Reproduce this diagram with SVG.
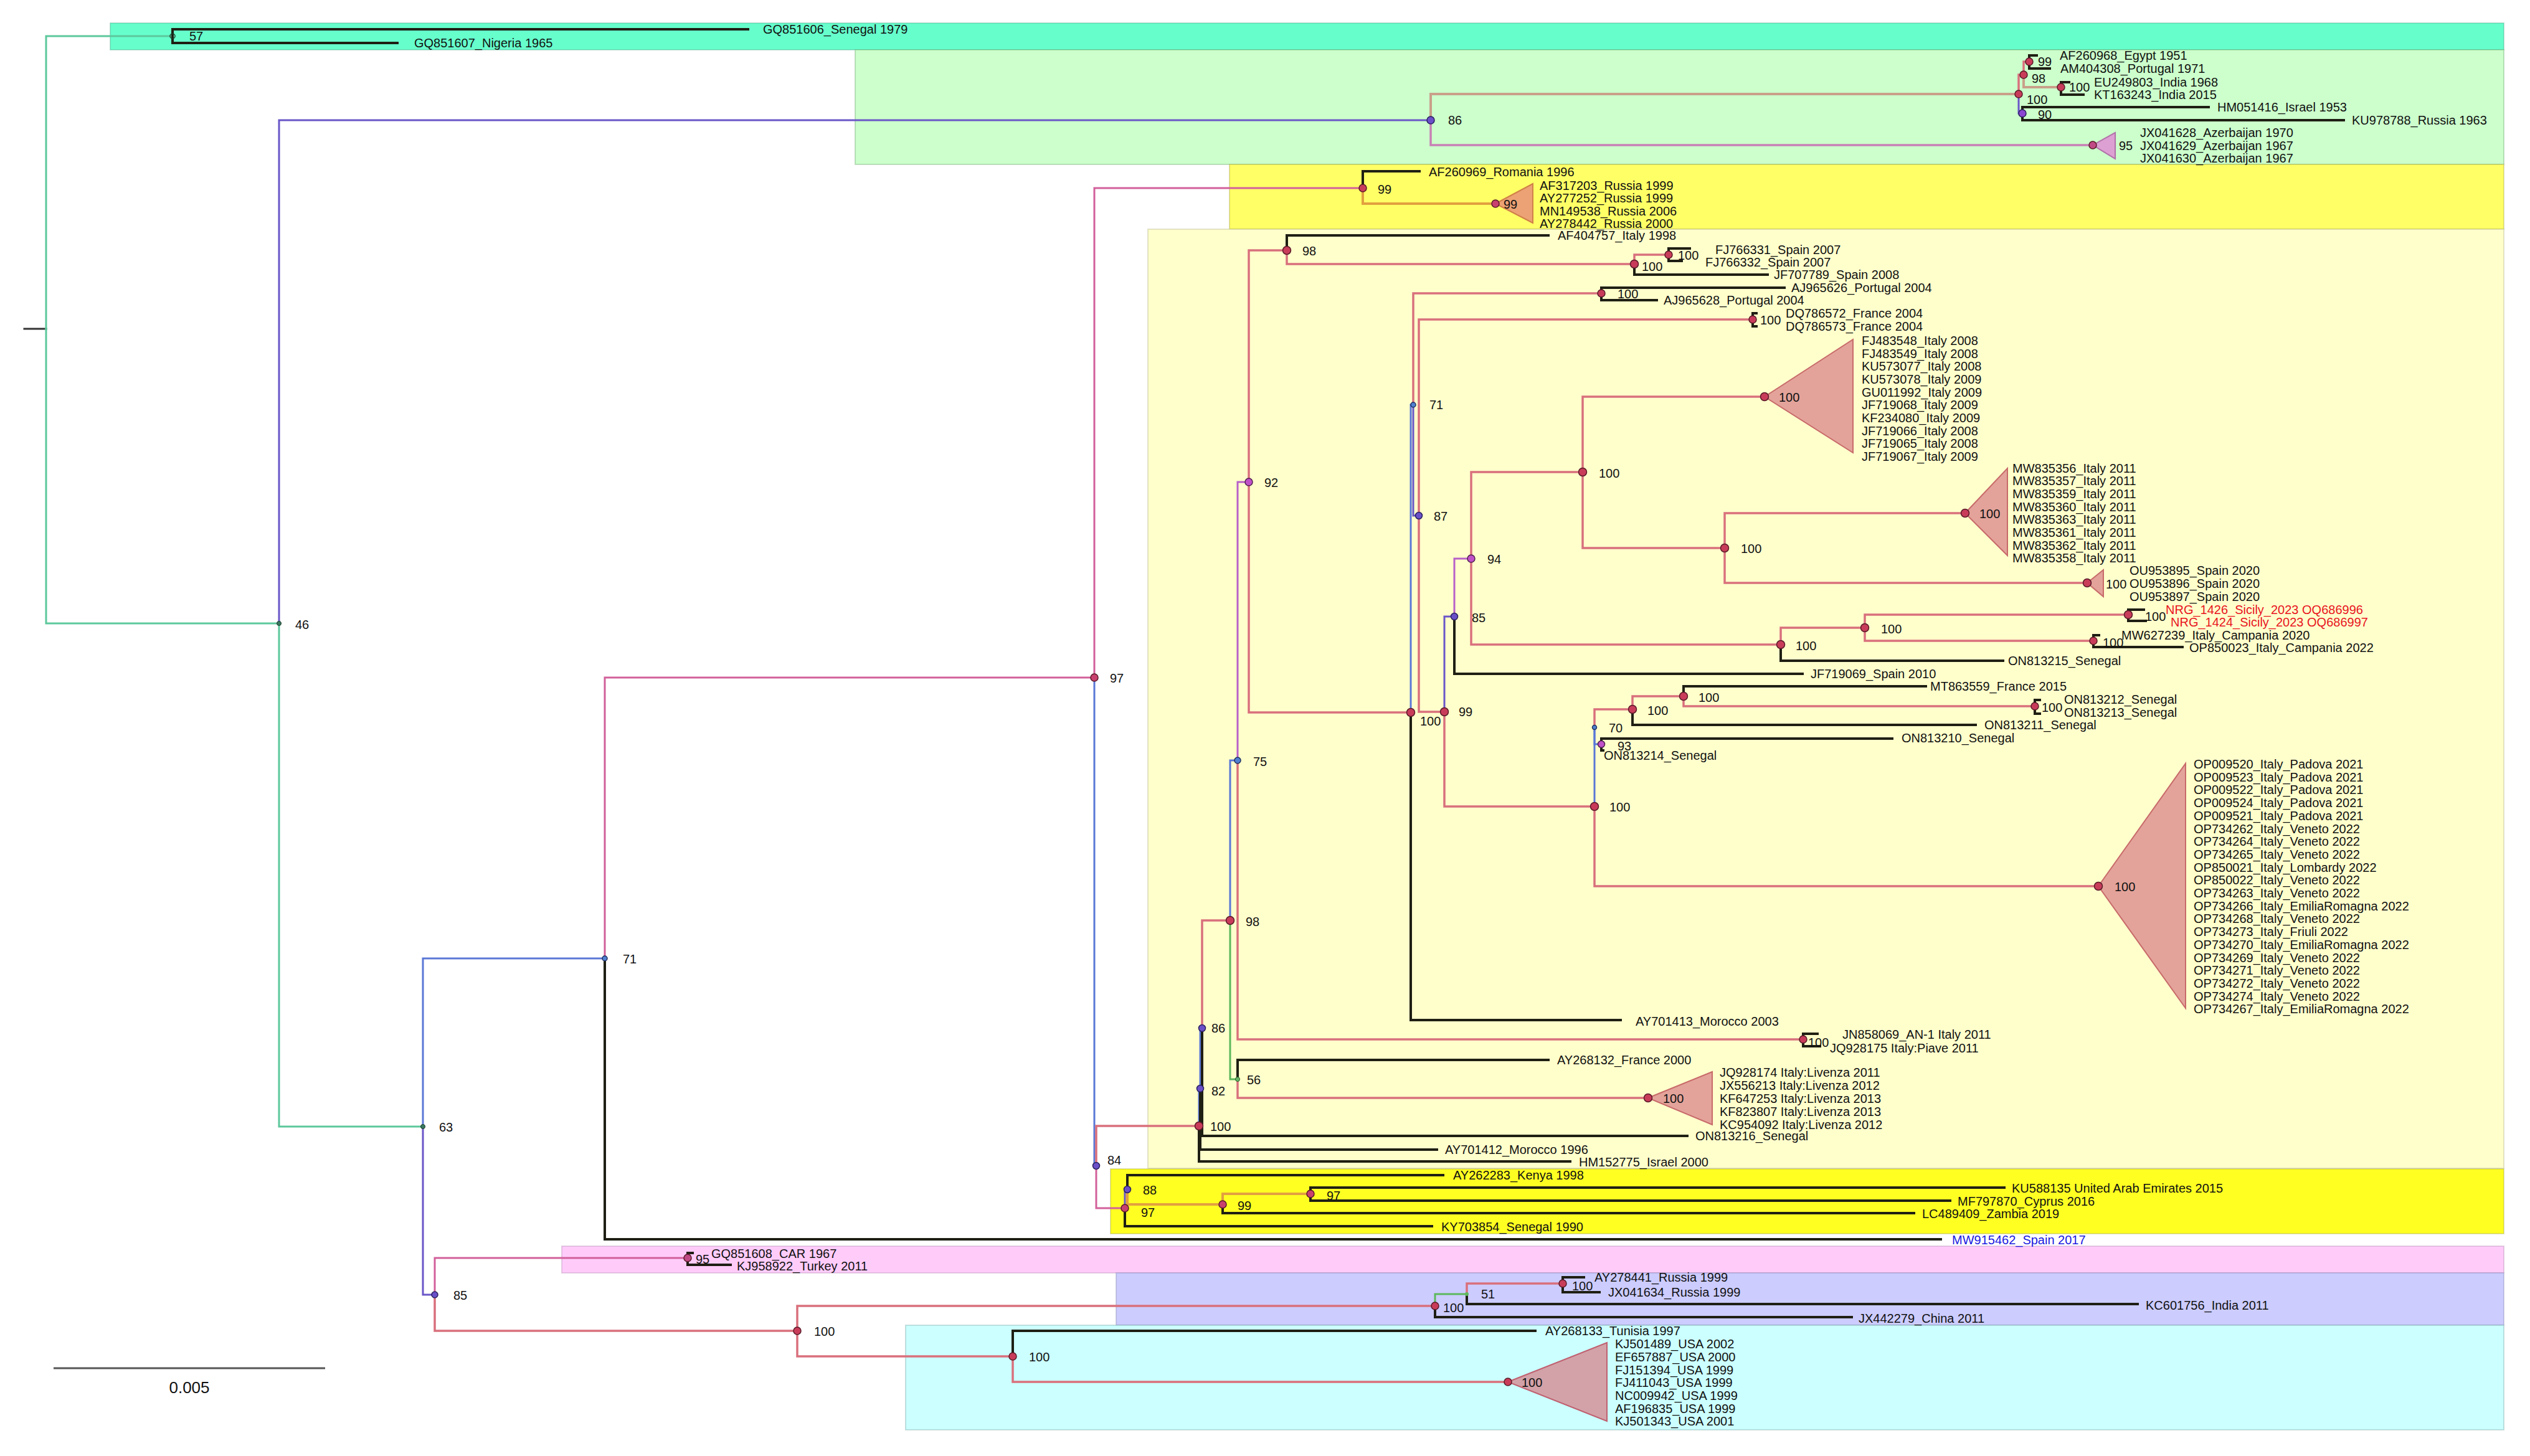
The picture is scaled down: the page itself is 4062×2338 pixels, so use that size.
<svg xmlns="http://www.w3.org/2000/svg" width="4062" height="2338" viewBox="0 0 4062 2338">
<style>
.bx{stroke-width:2;stroke-opacity:0.35}
#connectors path{fill:none;stroke-linecap:square}
.k{stroke:#1f1f14;stroke-width:4}
.p{stroke:#d9707c;stroke-width:3.5}
.m{stroke:#d2609a;stroke-width:3}
.b{stroke:#5a78d6;stroke-width:3}
.u{stroke:#6a56c8;stroke-width:3}
.g{stroke:#5cc89c;stroke-width:3}
.gg{stroke:#5cb85c;stroke-width:3}
.o{stroke:#e2a040;stroke-width:4}
.v{stroke:#c880b4;stroke-width:3.5}
.t{stroke:#c9a08a;stroke-width:4}
.q{stroke:#b860c8;stroke-width:3}
text{font-family:"Liberation Sans",Arial,sans-serif;font-size:20px;fill:#111;dominant-baseline:central}
.red{fill:#e8141e}
.blu{fill:#1a1ae0}
.dr{fill:#c83c5a;stroke:#5a1a28;stroke-width:1.5}
.dp{fill:#6a50c8;stroke:#2a2060;stroke-width:1.5}
.dm{fill:#c050c8;stroke:#502050;stroke-width:1.5}
.db{fill:#5080d0;stroke:#203060;stroke-width:1.5}
.ds{fill:#3a7a60;stroke:#1a3a2a;stroke-width:1}
.tri{stroke-width:2}
.ti{fill:#e3a39a;stroke:#c86a6a}
</style>
<rect width="4062" height="2338" fill="#ffffff"/>
<g id="boxes">
<rect class="bx" x="177" y="37" width="3843" height="43" fill="#66ffcc" stroke="#40a080"/>
<rect class="bx" x="1373" y="80" width="2647" height="184" fill="#ccffcc" stroke="#60a060"/>
<rect class="bx" x="1974" y="264" width="2046" height="104" fill="#ffff66" stroke="#a0a040"/>
<rect class="bx" x="1843" y="368" width="2177" height="1508" fill="#ffffcc" stroke="#b0b080"/>
<rect class="bx" x="1783" y="1877" width="2237" height="104" fill="#ffff22" stroke="#a0a040"/>
<rect class="bx" x="902" y="2001" width="3118" height="43" fill="#ffccfa" stroke="#b080b0"/>
<rect class="bx" x="1792" y="2044" width="2228" height="84" fill="#ccccff" stroke="#8080b0"/>
<rect class="bx" x="1454" y="2128" width="2566" height="168" fill="#ccffff" stroke="#70a0a0"/>
</g>
<g id="connectors">
<path d="M39 528H74" style="stroke:#333;stroke-width:3"/>
<path class="g" d="M74 528V58H277"/>
<path class="g" d="M74 528V1001H448"/>
<path class="k" d="M277 58V47H1201"/>
<path class="k" d="M277 58V69H638"/>
<path class="u" d="M448 1001V193H2297"/>
<path class="g" d="M448 1001V1809H679"/>
<path class="t" d="M2297 193V151H3241"/>
<path class="v" d="M2297 193V233H3360"/>
<path class="p" d="M3241 151V120H3249"/>
<path class="u" d="M3241 151V182H3247"/>
<path class="p" d="M3249 120V99H3258"/>
<path class="t" d="M3249 120V140H3309"/>
<path class="k" d="M3258 99V89H3270"/>
<path class="k" d="M3258 99V110H3291"/>
<path class="k" d="M3309 140V132H3322"/>
<path class="k" d="M3309 140V152H3345"/>
<path class="k" d="M3247 182V172H3546"/>
<path class="k" d="M3247 182V193H3763"/>
<path class="b" d="M679 1809V1539H971"/>
<path class="u" d="M679 1809V2079H698"/>
<path class="m" d="M971 1539V1088H1757"/>
<path class="k" d="M971 1539V1990H3116"/>
<path class="m" d="M1757 1088V302H2188"/>
<path class="b" d="M1757 1088V1872H1760"/>
<path class="k" d="M2188 302V275H2279"/>
<path class="o" d="M2188 302V327H2401"/>
<path class="p" d="M1760 1872V1808H1925"/>
<path class="m" d="M1760 1872V1940H1806"/>
<path class="b" d="M1925 1808V1748H1927"/>
<path class="k" d="M1925 1808V1865H2521"/>
<path class="b" d="M1927 1748V1651H1930"/>
<path class="k" d="M1927 1748V1846H2307"/>
<path class="p" d="M1930 1651V1478H1975"/>
<path class="k" d="M1930 1651V1824H2709"/>
<path class="b" d="M1975 1478V1221H1987"/>
<path class="gg" d="M1975 1478V1733H1987"/>
<path class="q" d="M1987 1221V774H2005"/>
<path class="p" d="M1987 1221V1669H2895"/>
<path class="k" d="M2895 1669V1660H2918"/>
<path class="k" d="M2895 1669V1680H2922"/>
<path class="k" d="M1987 1733V1702H2486"/>
<path class="p" d="M1987 1733V1763H2646"/>
<path class="p" d="M2005 774V402H2066"/>
<path class="p" d="M2005 774V1144H2265"/>
<path class="k" d="M2066 402V378H2486"/>
<path class="p" d="M2066 402V424H2624"/>
<path class="p" d="M2624 424V409H2679"/>
<path class="k" d="M2624 424V441H2838"/>
<path class="k" d="M2679 409V399H2713"/>
<path class="k" d="M2679 409V419H2700"/>
<path class="b" d="M2265 1144V650H2269"/>
<path class="k" d="M2265 1144V1638H2602"/>
<path class="p" d="M2269 650V471H2571"/>
<path class="u" d="M2269 650V828H2278"/>
<path class="k" d="M2571 471V462H2865"/>
<path class="k" d="M2571 471V482H2660"/>
<path class="p" d="M2278 828V513H2814"/>
<path class="p" d="M2278 828V1143H2319"/>
<path class="k" d="M2814 513V503H2820"/>
<path class="k" d="M2814 513V524H2820"/>
<path class="u" d="M2319 1143V990H2335"/>
<path class="p" d="M2319 1143V1295H2560"/>
<path class="q" d="M2335 990V897H2362"/>
<path class="k" d="M2335 990V1082H2894"/>
<path class="p" d="M2362 897V758H2541"/>
<path class="p" d="M2362 897V1035H2859"/>
<path class="p" d="M2541 758V637H2833"/>
<path class="p" d="M2541 758V880H2769"/>
<path class="p" d="M2769 880V824H3155"/>
<path class="p" d="M2769 880V936H3351"/>
<path class="p" d="M2859 1035V1008H2994"/>
<path class="k" d="M2859 1035V1061H3216"/>
<path class="p" d="M2994 1008V987H3417"/>
<path class="p" d="M2994 1008V1029H3361"/>
<path class="k" d="M3417 987V979H3442"/>
<path class="k" d="M3417 987V997H3445"/>
<path class="k" d="M3361 1029V1020H3370"/>
<path class="k" d="M3361 1029V1039H3504"/>
<path class="b" d="M2560 1295V1168"/>
<path class="p" d="M2560 1295V1423H3369"/>
<path class="p" d="M2560 1168V1139H2621"/>
<path class="b" d="M2560 1168V1195H2571"/>
<path class="p" d="M2621 1139V1118H2703"/>
<path class="k" d="M2621 1139V1164H3172"/>
<path class="k" d="M2703 1118V1102H3092"/>
<path class="p" d="M2703 1118V1134H3267"/>
<path class="k" d="M3267 1134V1124H3275"/>
<path class="k" d="M3267 1134V1146H3275"/>
<path class="k" d="M2571 1195V1186H3038"/>
<path class="k" d="M2571 1195V1205H2574"/>
<path class="u" d="M1806 1940V1910H1810"/>
<path class="k" d="M1806 1940V1969H2299"/>
<path class="k" d="M1810 1910V1887H2317"/>
<path class="o" d="M1810 1910V1934H1963"/>
<path class="o" d="M1963 1934V1917H2104"/>
<path class="k" d="M1963 1934V1948H3073"/>
<path class="k" d="M2104 1917V1907H3218"/>
<path class="k" d="M2104 1917V1928H3131"/>
<path class="m" d="M698 2079V2020H1104"/>
<path class="p" d="M698 2079V2137H1280"/>
<path class="k" d="M1104 2020V2012H1112"/>
<path class="k" d="M1104 2020V2031H1173"/>
<path class="p" d="M1280 2137V2097H2304"/>
<path class="p" d="M1280 2137V2178H1626"/>
<path class="gg" d="M2304 2097V2078H2355"/>
<path class="k" d="M2304 2097V2115H2973"/>
<path class="p" d="M2355 2078V2061H2509"/>
<path class="k" d="M2355 2078V2094H3432"/>
<path class="k" d="M2509 2061V2051H2543"/>
<path class="k" d="M2509 2061V2075H2568"/>
<path class="k" d="M1626 2178V2137H2465"/>
<path class="p" d="M1626 2178V2219H2421"/>
</g>
<g id="n57"><circle cx="277" cy="58" r="4" fill="none" stroke="#1a3a2a" stroke-width="1.5"/><text x="304" y="58">57</text></g>
<g id="leaf-GQ851606"><text x="1225" y="47">GQ851606_Senegal 1979</text></g>
<g id="leaf-GQ851607"><text x="665" y="69">GQ851607_Nigeria 1965</text></g>
<g id="n46"><circle class="ds" cx="448" cy="1001" r="3.5"/><text x="474" y="1003">46</text></g>
<g id="n86"><circle class="dp" cx="2297" cy="193" r="6"/><text x="2325" y="193">86</text></g>
<g id="n100e"><circle class="dr" cx="3241" cy="151" r="6"/><text x="3254" y="160">100</text></g>
<g id="n98e"><circle class="dr" cx="3249" cy="120" r="6"/><text x="3262" y="126">98</text></g>
<g id="n99e"><circle class="dr" cx="3258" cy="99" r="6"/><text x="3272" y="99">99</text></g>
<g id="n100i"><circle class="dr" cx="3309" cy="140" r="6"/><text x="3322" y="140">100</text></g>
<g id="n90"><circle class="dp" cx="3247" cy="182" r="6" style="fill:#8a46d0"/><text x="3272" y="184">90</text></g>
<g id="leaf-AF260968"><text x="3307" y="89">AF260968_Egypt 1951</text></g>
<g id="leaf-AM404308"><text x="3308" y="110">AM404308_Portugal 1971</text></g>
<g id="leaf-EU249803"><text x="3362" y="132">EU249803_India 1968</text></g>
<g id="leaf-KT163243"><text x="3362" y="152">KT163243_India 2015</text></g>
<g id="leaf-HM051416"><text x="3560" y="172">HM051416_Israel 1953</text></g>
<g id="leaf-KU978788"><text x="3776" y="193">KU978788_Russia 1963</text></g>
<g id="tri-azerbaijan"><polygon class="tri" points="3360,233 3396,213 3396,255" fill="#dca0d2" stroke="#b070a8"/><circle class="dr" cx="3360" cy="233" r="6" style="fill:#c04a86"/><text x="3402" y="234">95</text><text x="3436" y="213">JX041628_Azerbaijan 1970</text><text x="3436" y="234">JX041629_Azerbaijan 1967</text><text x="3436" y="254">JX041630_Azerbaijan 1967</text></g>
<g id="n63"><circle class="ds" cx="679" cy="1809" r="3.5"/><text x="705" y="1810">63</text></g>
<g id="n71"><circle class="db" cx="971" cy="1539" r="4"/><text x="1000" y="1540">71</text></g>
<g id="leaf-MW915462"><text class="blu" x="3134" y="1991">MW915462_Spain 2017</text></g>
<g id="n97"><circle class="dr" cx="1757" cy="1088" r="6" style="fill:#c8406e"/><text x="1782" y="1089">97</text></g>
<g id="n99R"><circle class="dr" cx="2188" cy="302" r="6"/><text x="2212" y="304">99</text></g>
<g id="leaf-AF260969"><text x="2294" y="276">AF260969_Romania 1996</text></g>
<g id="tri-russia"><polygon class="tri" points="2401,327 2461,295 2461,358" fill="#eca274" stroke="#d08048"/><circle class="dr" cx="2401" cy="327" r="6" style="fill:#c8406e"/><text x="2414" y="328">99</text><text x="2472" y="298">AF317203_Russia 1999</text><text x="2472" y="318">AY277252_Russia 1999</text><text x="2472" y="339">MN149538_Russia 2006</text><text x="2472" y="359">AY278442_Russia 2000</text></g>
<g id="n84"><circle class="dp" cx="1760" cy="1872" r="5.5"/><text x="1778" y="1863">84</text></g>
<g id="n100Y"><circle class="dr" cx="1925" cy="1808" r="6.5"/><text x="1943" y="1809">100</text></g>
<g id="n82"><circle class="dp" cx="1927" cy="1748" r="5.5"/><text x="1945" y="1752">82</text></g>
<g id="n86Y"><circle class="dp" cx="1930" cy="1651" r="5.5"/><text x="1945" y="1651">86</text></g>
<g id="n98Y"><circle class="dr" cx="1975" cy="1478" r="6.5"/><text x="2000" y="1480">98</text></g>
<g id="n75"><circle class="db" cx="1987" cy="1221" r="5"/><text x="2012" y="1223">75</text></g>
<g id="n56"><circle cx="1987" cy="1733" r="3.5" fill="#6ab86a" stroke="#2a5a2a" stroke-width="1"/><text x="2002" y="1734">56</text></g>
<g id="n100JN"><circle class="dr" cx="2895" cy="1669" r="6"/><text x="2903" y="1674">100</text></g>
<g id="leaf-JN858069"><text x="2958" y="1661">JN858069_AN-1 Italy 2011</text></g>
<g id="leaf-JQ928175"><text x="2938" y="1683">JQ928175 Italy:Piave 2011</text></g>
<g id="leaf-AY268132"><text x="2500" y="1702">AY268132_France 2000</text></g>
<g id="tri-livenza"><polygon class="tri ti" points="2646,1763 2749,1721 2749,1806"/><circle class="dr" cx="2646" cy="1763" r="6.5"/><text x="2670" y="1764">100</text><text x="2761" y="1722">JQ928174 Italy:Livenza 2011</text><text x="2761" y="1743">JX556213 Italy:Livenza 2012</text><text x="2761" y="1764">KF647253 Italy:Livenza 2013</text><text x="2761" y="1785">KF823807 Italy:Livenza 2013</text><text x="2761" y="1806">KC954092 Italy:Livenza 2012</text></g>
<g id="leaf-ON813216"><text x="2722" y="1824">ON813216_Senegal</text></g>
<g id="leaf-AY701412"><text x="2320" y="1846">AY701412_Morocco 1996</text></g>
<g id="leaf-HM152775"><text x="2535" y="1866">HM152775_Israel 2000</text></g>
<g id="n92"><circle class="dm" cx="2005" cy="774" r="6"/><text x="2030" y="775">92</text></g>
<g id="n98a"><circle class="dr" cx="2066" cy="402" r="6.5"/><text x="2091" y="403">98</text></g>
<g id="leaf-AF404757"><text x="2501" y="378">AF404757_Italy 1998</text></g>
<g id="n100s"><circle class="dr" cx="2624" cy="424" r="6.5"/><text x="2636" y="428">100</text></g>
<g id="n100ss"><circle class="dr" cx="2679" cy="409" r="6"/><text x="2694" y="410">100</text></g>
<g id="leaf-FJ766331"><text x="2754" y="401">FJ766331_Spain 2007</text></g>
<g id="leaf-FJ766332"><text x="2738" y="421">FJ766332_Spain 2007</text></g>
<g id="leaf-JF707789"><text x="2848" y="441">JF707789_Spain 2008</text></g>
<g id="n100big"><circle class="dr" cx="2265" cy="1144" r="6.5"/><text x="2280" y="1158">100</text></g>
<g id="leaf-AY701413"><text x="2626" y="1640">AY701413_Morocco 2003</text></g>
<g id="n71b"><circle class="db" cx="2269" cy="650" r="4"/><text x="2295" y="650">71</text></g>
<g id="n100AJ"><circle class="dr" cx="2571" cy="471" r="6"/><text x="2597" y="472">100</text></g>
<g id="leaf-AJ965626"><text x="2876" y="462">AJ965626_Portugal 2004</text></g>
<g id="leaf-AJ965628"><text x="2671" y="482">AJ965628_Portugal 2004</text></g>
<g id="n87"><circle class="dp" cx="2278" cy="828" r="5.5"/><text x="2302" y="829">87</text></g>
<g id="n100DQ"><circle class="dr" cx="2814" cy="513" r="6"/><text x="2826" y="514">100</text></g>
<g id="leaf-DQ786572"><text x="2867" y="503">DQ786572_France 2004</text></g>
<g id="leaf-DQ786573"><text x="2867" y="524">DQ786573_France 2004</text></g>
<g id="n99b"><circle class="dr" cx="2319" cy="1143" r="6.5"/><text x="2342" y="1143">99</text></g>
<g id="n85b"><circle class="dp" cx="2335" cy="990" r="5.5"/><text x="2363" y="992">85</text></g>
<g id="leaf-JF719069"><text x="2907" y="1082">JF719069_Spain 2010</text></g>
<g id="n94"><circle class="dm" cx="2362" cy="897" r="6"/><text x="2388" y="898">94</text></g>
<g id="n100c"><circle class="dr" cx="2541" cy="758" r="6.5"/><text x="2567" y="760">100</text></g>
<g id="tri-italy0809"><polygon class="tri ti" points="2833,637 2975,545 2975,727"/><circle class="dr" cx="2833" cy="637" r="6.5"/><text x="2856" y="638">100</text><text x="2989" y="547">FJ483548_Italy 2008</text><text x="2989" y="568">FJ483549_Italy 2008</text><text x="2989" y="588">KU573077_Italy 2008</text><text x="2989" y="609">KU573078_Italy 2009</text><text x="2989" y="630">GU011992_Italy 2009</text><text x="2989" y="650">JF719068_Italy 2009</text><text x="2989" y="671">KF234080_Italy 2009</text><text x="2989" y="692">JF719066_Italy 2008</text><text x="2989" y="712">JF719065_Italy 2008</text><text x="2989" y="733">JF719067_Italy 2009</text></g>
<g id="n100e2"><circle class="dr" cx="2769" cy="880" r="6.5"/><text x="2795" y="881">100</text></g>
<g id="tri-mw835"><polygon class="tri ti" points="3155,824 3223,752 3223,892"/><circle class="dr" cx="3155" cy="824" r="6.5"/><text x="3178" y="825">100</text><text x="3231" y="752">MW835356_Italy 2011</text><text x="3231" y="772">MW835357_Italy 2011</text><text x="3231" y="793">MW835359_Italy 2011</text><text x="3231" y="814">MW835360_Italy 2011</text><text x="3231" y="834">MW835363_Italy 2011</text><text x="3231" y="855">MW835361_Italy 2011</text><text x="3231" y="876">MW835362_Italy 2011</text><text x="3231" y="896">MW835358_Italy 2011</text></g>
<g id="tri-spain2020"><polygon class="tri ti" points="3351,936 3377,915 3377,958"/><circle class="dr" cx="3351" cy="936" r="6.5"/><text x="3381" y="938">100</text><text x="3419" y="916">OU953895_Spain 2020</text><text x="3419" y="937">OU953896_Spain 2020</text><text x="3419" y="958">OU953897_Spain 2020</text></g>
<g id="n100d"><circle class="dr" cx="2859" cy="1035" r="6.5"/><text x="2883" y="1037">100</text></g>
<g id="leaf-ON813215"><text x="3224" y="1061">ON813215_Senegal</text></g>
<g id="n100f"><circle class="dr" cx="2994" cy="1008" r="6.5"/><text x="3020" y="1010">100</text></g>
<g id="n100Sic"><circle class="dr" cx="3417" cy="987" r="6.5"/><text x="3444" y="990">100</text></g>
<g id="leaf-NRG1426"><text class="red" x="3477" y="979">NRG_1426_Sicily_2023 OQ686996</text></g>
<g id="leaf-NRG1424"><text class="red" x="3485" y="999">NRG_1424_Sicily_2023 OQ686997</text></g>
<g id="n100Cam"><circle class="dr" cx="3361" cy="1029" r="6"/><text x="3376" y="1032">100</text></g>
<g id="leaf-MW627239"><text x="3406" y="1020">MW627239_Italy_Campania 2020</text></g>
<g id="leaf-OP850023"><text x="3515" y="1040">OP850023_Italy_Campania 2022</text></g>
<g id="n100SP"><circle class="dr" cx="2560" cy="1295" r="6.5"/><text x="2584" y="1296">100</text></g>
<g id="n70"><circle class="db" cx="2560" cy="1168" r="3.5"/><text x="2583" y="1169">70</text></g>
<g id="n100g"><circle class="dr" cx="2621" cy="1139" r="6.5"/><text x="2645" y="1141">100</text></g>
<g id="leaf-ON813211"><text x="3186" y="1164">ON813211_Senegal</text></g>
<g id="n100h"><circle class="dr" cx="2703" cy="1118" r="6.5"/><text x="2727" y="1120">100</text></g>
<g id="leaf-MT863559"><text x="3099" y="1102">MT863559_France 2015</text></g>
<g id="n100i2"><circle class="dr" cx="3267" cy="1134" r="6"/><text x="3278" y="1136">100</text></g>
<g id="leaf-ON813212"><text x="3314" y="1123">ON813212_Senegal</text></g>
<g id="leaf-ON813213"><text x="3314" y="1144">ON813213_Senegal</text></g>
<g id="n93"><circle class="dm" cx="2571" cy="1195" r="5.5"/><text x="2597" y="1198">93</text></g>
<g id="leaf-ON813210"><text x="3053" y="1185">ON813210_Senegal</text></g>
<g id="leaf-ON813214"><text x="2575" y="1213">ON813214_Senegal</text></g>
<g id="tri-padova"><polygon class="tri ti" points="3369,1423 3509,1226 3509,1619"/><circle class="dr" cx="3369" cy="1423" r="6.5"/><text x="3395" y="1424">100</text>
<text x="3522" y="1227">OP009520_Italy_Padova 2021</text><text x="3522" y="1248">OP009523_Italy_Padova 2021</text><text x="3522" y="1268">OP009522_Italy_Padova 2021</text><text x="3522" y="1289">OP009524_Italy_Padova 2021</text><text x="3522" y="1310">OP009521_Italy_Padova 2021</text><text x="3522" y="1331">OP734262_Italy_Veneto 2022</text><text x="3522" y="1351">OP734264_Italy_Veneto 2022</text><text x="3522" y="1372">OP734265_Italy_Veneto 2022</text><text x="3522" y="1393">OP850021_Italy_Lombardy 2022</text><text x="3522" y="1413">OP850022_Italy_Veneto 2022</text><text x="3522" y="1434">OP734263_Italy_Veneto 2022</text><text x="3522" y="1455">OP734266_Italy_EmiliaRomagna 2022</text><text x="3522" y="1475">OP734268_Italy_Veneto 2022</text><text x="3522" y="1496">OP734273_Italy_Friuli 2022</text><text x="3522" y="1517">OP734270_Italy_EmiliaRomagna 2022</text><text x="3522" y="1538">OP734269_Italy_Veneto 2022</text><text x="3522" y="1558">OP734271_Italy_Veneto 2022</text><text x="3522" y="1579">OP734272_Italy_Veneto 2022</text><text x="3522" y="1600">OP734274_Italy_Veneto 2022</text><text x="3522" y="1620">OP734267_Italy_EmiliaRomagna 2022</text></g>
<g id="n97K"><circle class="dr" cx="1806" cy="1940" r="6" style="fill:#c8406e"/><text x="1832" y="1947">97</text></g>
<g id="n88"><circle class="dp" cx="1810" cy="1910" r="5.5"/><text x="1835" y="1911">88</text></g>
<g id="leaf-AY262283"><text x="2333" y="1887">AY262283_Kenya 1998</text></g>
<g id="leaf-KY703854"><text x="2314" y="1970">KY703854_Senegal 1990</text></g>
<g id="n99K"><circle class="dr" cx="1963" cy="1934" r="6" style="fill:#c8406e"/><text x="1987" y="1936">99</text></g>
<g id="n97K2"><circle class="dr" cx="2104" cy="1917" r="6" style="fill:#c8406e"/><text x="2130" y="1920">97</text></g>
<g id="leaf-KU588135"><text x="3230" y="1908">KU588135 United Arab Emirates 2015</text></g>
<g id="leaf-MF797870"><text x="3143" y="1929">MF797870_Cyprus 2016</text></g>
<g id="leaf-LC489409"><text x="3086" y="1949">LC489409_Zambia 2019</text></g>
<g id="n85"><circle class="dp" cx="698" cy="2079" r="5"/><text x="728" y="2080">85</text></g>
<g id="n95"><circle class="dr" cx="1104" cy="2020" r="6" style="fill:#c04a86"/><text x="1117" y="2022">95</text></g>
<g id="leaf-GQ851608"><text x="1142" y="2013">GQ851608_CAR 1967</text></g>
<g id="leaf-KJ958922"><text x="1183" y="2033">KJ958922_Turkey 2011</text></g>
<g id="n100b"><circle class="dr" cx="1280" cy="2137" r="6"/><text x="1307" y="2138">100</text></g>
<g id="n100L"><circle class="dr" cx="2304" cy="2097" r="6"/><text x="2317" y="2100">100</text></g>
<g id="n51"><circle cx="2355" cy="2078" r="3" fill="#5cb85c"/><text x="2378" y="2078">51</text></g>
<g id="n100R"><circle class="dr" cx="2509" cy="2061" r="6"/><text x="2524" y="2065">100</text></g>
<g id="leaf-AY278441"><text x="2560" y="2051">AY278441_Russia 1999</text></g>
<g id="leaf-JX041634"><text x="2582" y="2075">JX041634_Russia 1999</text></g>
<g id="leaf-KC601756"><text x="3445" y="2096">KC601756_India 2011</text></g>
<g id="leaf-JX442279"><text x="2984" y="2117">JX442279_China 2011</text></g>
<g id="n100C"><circle class="dr" cx="1626" cy="2178" r="6"/><text x="1652" y="2179">100</text></g>
<g id="leaf-AY268133"><text x="2481" y="2137">AY268133_Tunisia 1997</text></g>
<g id="tri-usa"><polygon class="tri" points="2421,2219 2580,2156 2580,2282" fill="#d2a2a8" stroke="#c06070"/><circle class="dr" cx="2421" cy="2219" r="6"/><text x="2443" y="2220">100</text><text x="2593" y="2158">KJ501489_USA 2002</text><text x="2593" y="2179">EF657887_USA 2000</text><text x="2593" y="2200">FJ151394_USA 1999</text><text x="2593" y="2220">FJ411043_USA 1999</text><text x="2593" y="2241">NC009942_USA 1999</text><text x="2593" y="2262">AF196835_USA 1999</text><text x="2593" y="2282">KJ501343_USA 2001</text></g>
<g id="scalebar"><path d="M86 2197H522" stroke="#555" stroke-width="3" fill="none"/><text x="304" y="2228" text-anchor="middle" style="font-size:26px">0.005</text></g>
</svg>
